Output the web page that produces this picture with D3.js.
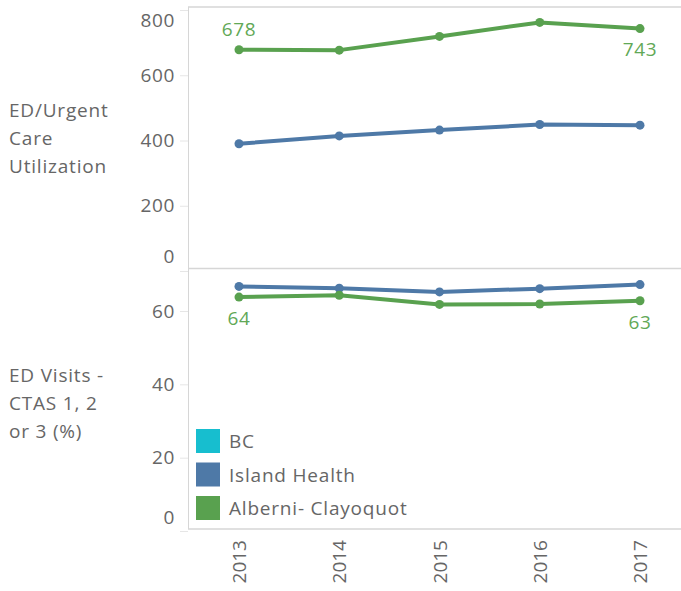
<!DOCTYPE html>
<html>
<head>
<meta charset="utf-8">
<script src="https://cdn.jsdelivr.net/npm/d3@7"></script>
<style>
  body { margin: 0; background: #fff; }
  text { font-family: "Open Sans", "Noto Sans", sans-serif; fill: #666; }
</style>
</head>
<body>
<svg id="chart"></svg>
<script>
// data
const years = ["2013", "2014", "2015", "2016", "2017"];
const utilIsland = [390, 414, 432, 449, 447];
const utilAlberni = [678, 677, 719, 762, 743];
const ctasIsland = [66.7, 66.2, 65.2, 66.1, 67.2];
const ctasAlberni = [63.8, 64.3, 61.8, 61.9, 62.8];
const utilTicks = [0, 200, 400, 600, 800];
const ctasTicks = [0, 20, 40, 60];
const legendNames = ["BC", "Island Health", "Alberni- Clayoquot"];
const legendColors = ["#17becf", "#4e79a7", "#59a14f"];

const width = 681, height = 591;
const panelLeft = 188;

const svg = d3.select("#chart")
  .attr("width", width)
  .attr("height", height);

const x = d3.scalePoint().domain(years).range([239, 640]);
const yTop = d3.scaleLinear().domain([0, 800]).range([271, 10]);
const yBot = d3.scaleLinear().domain([0, 60]).range([531, 311]);

// panel frames
const frameColor = "#d6d6d6";
[7, 268.5, 529].forEach(function(y) {
  svg.append("line")
    .attr("x1", panelLeft).attr("x2", width)
    .attr("y1", y).attr("y2", y)
    .attr("stroke", frameColor).attr("stroke-width", 1.5);
});
svg.append("line")
  .attr("x1", panelLeft + 0.5).attr("x2", panelLeft + 0.5)
  .attr("y1", 7).attr("y2", 529)
  .attr("stroke", frameColor).attr("stroke-width", 1);

// y axes
function drawAxis(scale, ticks, shifts) {
  const g = svg.append("g")
    .attr("transform", "translate(" + panelLeft + ",0)")
    .call(d3.axisLeft(scale).tickValues(ticks).tickSize(8).tickPadding(5));
  g.select(".domain").remove();
  g.selectAll(".tick line").attr("stroke", "#e6e6e6");
  g.selectAll(".tick text")
    .style("font-size", "19px")
    .style("letter-spacing", "0.6px")
    .attr("fill", "#666")
    .attr("dy", function(d) { return (0.32 + (shifts[d] || 0) / 19) + "em"; });
}
drawAxis(yTop, utilTicks, { 800: 10, 0: -15 });
drawAxis(yBot, ctasTicks, { 0: -14 });

// axis titles
function drawTitle(lines, y0) {
  svg.append("text")
    .attr("x", 9)
    .attr("y", y0)
    .style("font-size", "19px")
    .style("letter-spacing", "0.8px")
    .selectAll("tspan")
    .data(lines)
    .join("tspan")
    .attr("x", 9)
    .attr("dy", function(d, i) { return i === 0 ? 0 : 28; })
    .text(d => d);
}
drawTitle(["ED/Urgent", "Care", "Utilization"], 117);
drawTitle(["ED Visits -", "CTAS 1, 2", "or 3 (%)"], 382);

// lines
function drawSeries(values, scale, color) {
  const line = d3.line()
    .x((d, i) => x(years[i]))
    .y(d => scale(d));
  svg.append("path")
    .datum(values)
    .attr("d", line)
    .attr("fill", "none")
    .attr("stroke", color)
    .attr("stroke-width", 4)
    .attr("stroke-linejoin", "round");
  svg.append("g")
    .selectAll("circle")
    .data(values)
    .join("circle")
    .attr("cx", (d, i) => x(years[i]))
    .attr("cy", d => scale(d))
    .attr("r", 4.5)
    .attr("fill", color);
}
drawSeries(utilIsland, yTop, legendColors[1]);
drawSeries(utilAlberni, yTop, legendColors[2]);
drawSeries(ctasIsland, yBot, legendColors[1]);
drawSeries(ctasAlberni, yBot, legendColors[2]);

// end labels
const fmt = d3.format(".0f");
function endLabel(values, i, scale, dy) {
  svg.append("text")
    .attr("x", x(years[i]))
    .attr("y", scale(values[i]) + dy)
    .attr("text-anchor", "middle")
    .style("font-size", "19px")
    .style("letter-spacing", "0.6px")
    .style("fill", "#62a856")
    .text(fmt(values[i]));
}
endLabel(utilAlberni, 0, yTop, -14);
endLabel(utilAlberni, 4, yTop, 27);
endLabel(ctasAlberni, 0, yBot, 28);
endLabel(ctasAlberni, 4, yBot, 28);

// x axis labels
svg.append("g")
  .selectAll("text")
  .data(years)
  .join("text")
  .attr("transform", d => "translate(" + (x(d) + 7) + ",540) rotate(-90)")
  .attr("text-anchor", "end")
  .style("font-size", "19px")
  .text(d => d);

// legend
const legend = svg.append("g").attr("transform", "translate(196,429)");
const item = legend.selectAll("g")
  .data(legendNames)
  .join("g")
  .attr("transform", (d, i) => "translate(0," + i * 33.5 + ")");
item.append("rect")
  .attr("width", 24).attr("height", 24)
  .attr("fill", (d, i) => legendColors[i]);
item.append("text")
  .attr("x", 33)
  .attr("y", 19)
  .style("font-size", "19px")
  .style("letter-spacing", "0.8px")
  .text(d => d);
</script>
</body>
</html>
